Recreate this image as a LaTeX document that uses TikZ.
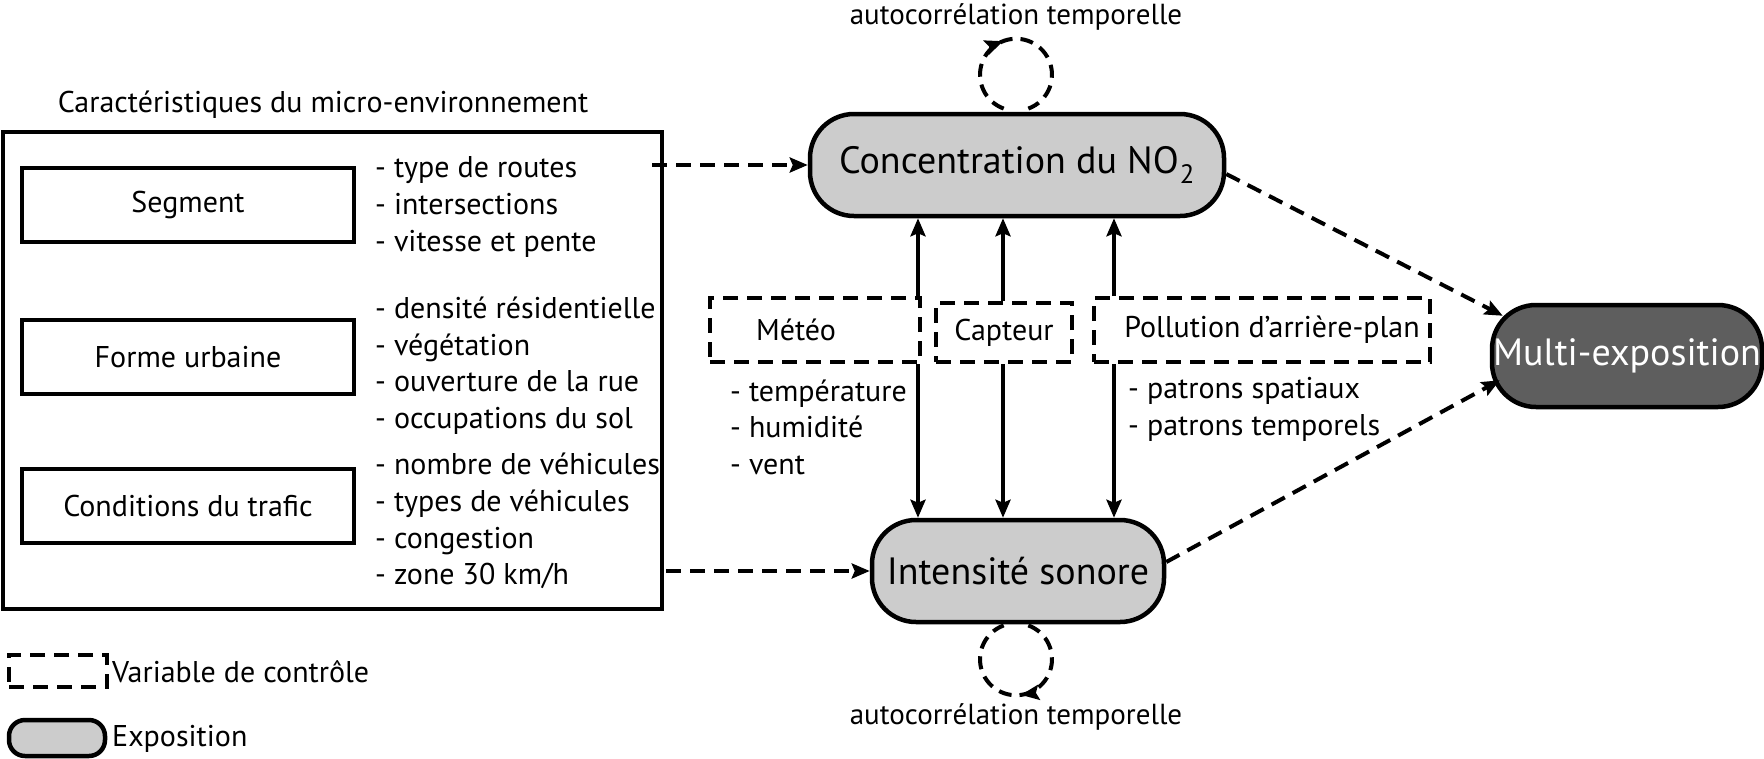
\documentclass[tikz,border=0pt]{standalone}
\usepackage{fontspec}
\setmainfont{PT Sans}
\usetikzlibrary{arrows.meta,calc}
\definecolor{expo}{HTML}{CCCCCC}
\definecolor{multi}{HTML}{5E5E5E}
\begin{document}
\begin{tikzpicture}[x=1pt,y=-1pt,
  txt/.style={font=\fontsize{30}{36.6}\selectfont, inner sep=0pt, align=left},
  big/.style={font=\fontsize{38}{42}\selectfont},
  plainbox/.style={draw, line width=4.5pt, rectangle, inner sep=0pt, font=\fontsize{30}{34}\selectfont},
  ctrlbox/.style={draw, line width=4pt, dash pattern=on 15pt off 9pt, rectangle, fill=white, inner sep=0pt, font=\fontsize{30}{34}\selectfont},
  expobox/.style={draw, line width=4.5pt, rounded corners=44pt, fill=expo, inner sep=0pt, minimum height=102pt},
  tip/.style={-{Stealth[length=18pt,width=15pt,inset=3pt]}},
  arr/.style={line width=4pt, tip},
  darr/.style={arr, dash pattern=on 15pt off 9pt},
  loop/.style={line width=4pt, dash pattern=on 13pt off 8pt}
]
\useasboundingbox (0,0) rectangle (1764,758);

% left block
\node[txt, anchor=center] (title) at (323,105) {Caractéristiques du micro-environnement};
\node[plainbox, minimum width=659pt, minimum height=477pt] (main) at (332.5,370.5) {};
\node[plainbox, minimum width=332pt, minimum height=74pt] (seg) at (188,205) {Segment};
\node[plainbox, minimum width=332pt, minimum height=74pt] (forme) at (188,357) {Forme urbaine};
\node[plainbox, minimum width=332pt, minimum height=74pt] (trafic) at (188,506) {Conditions du trafic};
\node[txt, anchor=west] (lseg) at (375,207) {- type de routes\\- intersections\\- vitesse et pente};
\node[txt, anchor=west] (lforme) at (375,365.5) {- densité résidentielle\\- végétation\\- ouverture de la rue\\- occupations du sol};
\node[txt, anchor=west] (ltrafic) at (375,521) {- nombre de véhicules\\- types de véhicules\\- congestion\\- zone 30 km/h};

% exposures
\node[expobox, big, minimum width=414pt] (no2) at (1017,165) {Concentration du NO\kern1pt\textsubscript{2}};
\node[expobox, big, minimum width=292pt] (son) at (1018,571) {Intensité sonore};
\node[expobox, big, minimum width=270pt, fill=multi, text=white] (multi) at (1627,356) {Multi-exposition};

% control variables
\node[ctrlbox, minimum width=210pt, minimum height=64pt] (meteo) at (815,330) {Météo\rule{38pt}{0pt}};
\node[ctrlbox, minimum width=136pt, minimum height=59pt] (capteur) at (1004,332.5) {Capteur};
\node[ctrlbox, minimum width=336pt, minimum height=64pt] (pollu) at (1262,330) {\rule{20pt}{0pt}Pollution d’arrière-plan};
\node[txt, anchor=west] (lmeteo) at (730,427) {- température\\- humidité\\- vent};
\node[txt, anchor=west] (lpollu) at (1128,409.5) {- patrons spatiaux\\- patrons temporels};

% vertical arrows
\coordinate (m1) at ($(meteo.north east)+(-4,0)$);
\coordinate (c1) at ($(capteur.north)+(-1,0)$);
\coordinate (p1) at ($(pollu.north west)+(22,0)$);
\foreach \c/\b in {m1/meteo, c1/capteur, p1/pollu}{
  \draw[arr] (\c) -- (\c |- no2.south);
  \draw[arr] (\c |- \b.south) -- (\c |- son.north);
}

% dashed arrows
\draw[darr] ($(main.east |- no2.west)+(-12,0)$) -- (no2.west);
\draw[darr] ($(main.east |- son.west)+(2,0)$) -- (son.west);
\draw[darr] ($(no2.east)+(0,9)$) -- ($(multi.north west)+(13,13)$);
\draw[darr] ($(son.east)+(0,-9)$) -- ($(multi.south west)+(10,-29)$);

% autocorrelation loops
\coordinate (lt) at ($(no2.north)+(-1,-37)$);
\draw[loop] ($(lt)+(110:36)$) arc[start angle=110, end angle=430, radius=36];
\draw[line width=4pt, tip] ($(lt)+(225:36)$) arc[start angle=225, end angle=249, radius=36];
\node[font=\fontsize{29}{32}\selectfont, inner sep=0pt] (at1) at (1016,17) {autocorrélation temporelle};

\coordinate (lb) at ($(son.south)+(-2,35)$);
\draw[loop] ($(lb)+(290:36)$) arc[start angle=290, end angle=610, radius=36];
\draw[line width=4pt, tip] ($(lb)+(58:36)$) arc[start angle=58, end angle=82, radius=36];
\node[font=\fontsize{29}{32}\selectfont, inner sep=0pt] (at2) at (1016,717) {autocorrélation temporelle};

% legend
\node[ctrlbox, minimum width=98pt, minimum height=32pt] (legc) at (58,671) {};
\node[txt, anchor=west] (legct) at (112,672) {Variable de contrôle};
\node[draw, line width=4.5pt, rounded corners=16pt, fill=expo, minimum width=96pt, minimum height=36pt, inner sep=0pt] (lege) at (57,738) {};
\node[txt, anchor=west] (legex) at (112,739) {Exposition};
\end{tikzpicture}
\end{document}
